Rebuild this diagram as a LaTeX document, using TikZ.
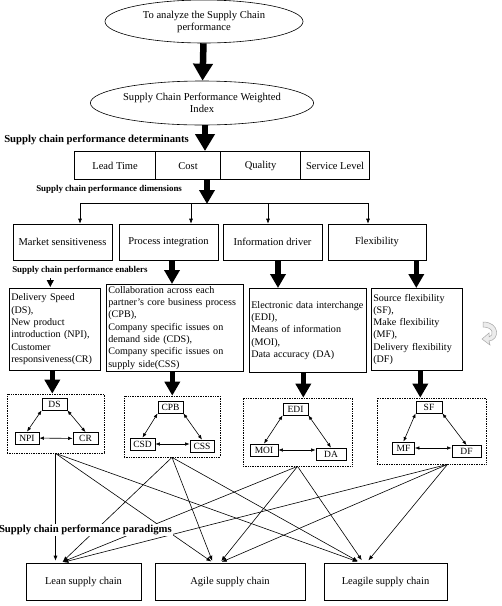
\documentclass[tikz,border=0pt]{standalone}
\usepackage{fontspec}
\setmainfont{Liberation Serif}
\usepackage{tikz}
\usetikzlibrary{matrix, positioning, arrows.meta}
\usetikzlibrary{shapes}

\begin{document}
\begin{tikzpicture}[x=1pt, y=-1pt, line width=0.6pt,
	goal/.style={draw, ellipse, align=center, inner sep=0pt, font=\fontsize{10.6}{12}\selectfont},
	box/.style={draw, align=center, font=\fontsize{10.5}{12}\selectfont},
	enabler/.style={draw, anchor=north west, align=left, inner sep=2pt, font=\fontsize{10.1}{12.3}\selectfont},
	grp/.style={draw, densely dotted, line width=0.7pt},
	var/.style={draw, line width=0.8pt, inner sep=1pt, minimum height=12pt, font=\fontsize{9.5}{10}\selectfont},
	bigarrow/.style={line width=6.5pt, -{Triangle[width=19pt,length=17pt]}},
	midarrow/.style={line width=5.5pt, -{Triangle[width=15pt,length=14pt]}},
	thin/.style={-{Latex[length=5pt,width=4pt]}},
	dbl/.style={{Latex[length=4.5pt,width=3.5pt]}-{Latex[length=4.5pt,width=3.5pt]}},
	lbl/.style={font=\bfseries\fontsize{10.7}{12}\selectfont, inner sep=1pt},
	smalllbl/.style={font=\bfseries\fontsize{8.9}{10}\selectfont, inner sep=1pt}]
				\useasboundingbox (0,0) rectangle (502,606);
				
				\node[goal, minimum width=198pt, minimum height=43pt] (aim) at (204,21.5) {To analyze the Supply Chain\\performance};
				\node[goal, minimum width=208pt, minimum height=44pt] (index) at (202,103) {Supply Chain Performance Weighted\\Index};
				
				\matrix (det) [matrix of nodes, anchor=north west, inner sep=0pt,
				nodes={draw, minimum height=28pt, anchor=center, font=\fontsize{10.5}{12}\selectfont},
				column sep=-\pgflinewidth] at (74,151) {
					|[minimum width=81pt]| Lead Time & |[minimum width=65pt]| Cost & |[minimum width=80pt]| Quality & |[minimum width=69pt]| Service Level \\
				};
				\node[lbl, anchor=west] (detlbl) at (3,140) {Supply chain performance determinants};
				
				\node[box, minimum width=99pt, minimum height=36pt] (ms) at (62.5,242) {Market sensitiveness};
				\node[box, minimum width=99pt, minimum height=36pt] (pi) at (168.5,242) {Process integration};
				\node[box, minimum width=99pt, minimum height=36pt] (id) at (272.5,242) {Information driver};
				\node[box, minimum width=98pt, minimum height=36pt] (fl) at (377,242) {Flexibility};
				\node[smalllbl, anchor=west] (dimlbl) at (35,189) {Supply chain performance dimensions};
				\node[smalllbl, anchor=west] (enlbl) at (11,270) {Supply chain performance enablers};
				
				\node[enabler, minimum width=91pt, minimum height=82pt, text width=87pt] (en1) at (9,288) {Delivery Speed\\(DS),\\New product\\introduction (NPI),\\Customer\\responsiveness(CR)};
				\node[enabler, minimum width=137pt, minimum height=86pt, text width=133pt] (en2) at (106,284) {Collaboration across each\\partner's core business process\\(CPB),\\Company specific issues on\\demand side (CDS),\\Company specific issues on\\supply side(CSS)};
				\node[enabler, minimum width=117pt, minimum height=84pt, text width=113pt] (en3) at (249,288) {Electronic data interchange\\(EDI),\\Means of information\\(MOI),\\Data accuracy (DA)};
				\node[enabler, minimum width=91pt, minimum height=82pt, text width=87pt] (en4) at (371,288) {Source flexibility\\(SF),\\Make flexibility\\(MF),\\Delivery flexibility\\(DF)};
				
				\node[grp, minimum width=97pt, minimum height=59pt] (grp1) at (55.5,423.5) {};
				\node[grp, minimum width=96pt, minimum height=61pt] (grp2) at (172,426.5) {};
				\node[grp, minimum width=109pt, minimum height=68pt] (grp3) at (297.5,432) {};
				\node[grp, minimum width=109pt, minimum height=66pt] (grp4) at (431.5,431) {};
				
				\node[var, minimum width=25pt] (ds) at (54.5,404) {DS};
				\node[var, minimum width=24pt] (npi) at (27,438) {NPI};
				\node[var, minimum width=25pt] (cr) at (85.5,438.5) {CR};
				\node[var, minimum width=25pt] (cpb) at (170.5,407) {CPB};
				\node[var, minimum width=25pt] (csd) at (142.5,444) {CSD};
				\node[var, minimum width=24pt] (css) at (202,446) {CSS};
				\node[var, minimum width=25pt] (edi) at (295.5,409) {EDI};
				\node[var, minimum width=28pt] (moi) at (264,450) {MOI};
				\node[var, minimum width=30pt] (da) at (331,454) {DA};
				\node[var, minimum width=26pt] (sf) at (429,407) {SF};
				\node[var, minimum width=22pt] (mf) at (403.5,448) {MF};
				\node[var, minimum width=29pt] (df) at (466.5,451.5) {DF};
				
				\node[box, minimum width=115pt, minimum height=37pt] (lean) at (83.5,581.5) {Lean supply chain};
				\node[box, minimum width=150pt, minimum height=37pt] (agile) at (230,581.5) {Agile supply chain};
				\node[box, minimum width=123pt, minimum height=37pt] (leagile) at (385.5,581.5) {Leagile supply chain};
				
				\draw[bigarrow] (aim) -- (index);
				\draw[bigarrow] ([xshift=3pt]index.south) -- ([xshift=3pt]index.south |- det.north);
				\coordinate (split) at (207,203);
				\draw[midarrow] (split |- det.south) -- ([yshift=-1pt]split);
				\draw (split -| 80,0) -- (split -| 368,0);
				\draw[thin] ([xshift=17.5pt]ms.north |- split) -- ([xshift=17.5pt]ms.north);
				\draw[thin] ([xshift=22.5pt]pi.north |- split) -- ([xshift=22.5pt]pi.north);
				\draw[thin] ([xshift=-4.5pt]id.north |- split) -- ([xshift=-4.5pt]id.north);
				\draw[thin] ([xshift=-9pt]fl.north |- split) -- ([xshift=-9pt]fl.north);
				
				\draw[line width=1pt, -{Triangle[width=7pt,length=7pt]}] ([xshift=-4.5pt, yshift=-3pt]en1.north |- enlbl.south) -- ([xshift=-4.5pt, yshift=1pt]en1.north);
				\draw[midarrow] ([xshift=3.5pt]pi.south) -- ([xshift=3.5pt]pi.south |- en2.north);
				\draw[midarrow] ([xshift=5.5pt]id.south) -- ([xshift=5.5pt]id.south |- en3.north);
				\draw[midarrow] ([xshift=-0.5pt]en4.north |- fl.south) -- ([xshift=-0.5pt]en4.north);
				
				\draw[midarrow] ([xshift=-2.5pt]en1.south) -- ([xshift=-2.5pt]en1.south |- grp1.north);
				\draw[midarrow] ([xshift=-2.5pt]en2.south) -- ([xshift=-2.5pt]en2.south |- grp2.north);
				\draw[midarrow] ([xshift=-4.5pt]en3.south) -- ([xshift=-4.5pt]en3.south |- grp3.north);
				\draw[midarrow] ([xshift=3.5pt]en4.south) -- ([xshift=3.5pt]en4.south |- grp4.north);
				
				\draw[dbl] (ds.south west) -- (npi.north);
				\draw[dbl] (ds.south east) -- (cr.north);
				\draw[dbl] (npi) -- (cr);
				\draw[dbl] (cpb.south west) -- (csd.north);
				\draw[dbl] (cpb.south east) -- (css.north);
				\draw[dbl] (csd.east) -- (css.west |- csd.east);
				\draw[dbl] (edi.south west) -- (moi.north);
				\draw[dbl] (edi.south east) -- (da.north);
				\draw[dbl] (moi.east) -- (da.west |- moi.east);
				\draw[dbl] (sf.south west) -- (mf.north);
				\draw[dbl] (sf.south east) -- (df.north);
				\draw[dbl] (mf.east) -- (df.west |- mf.east);
				
				\draw[thin, shorten >=2pt] (grp1.south) -- (lean.north -| grp1.south);
				\draw[thin, shorten >=2pt] (grp1.south) -- ([xshift=-17pt]agile.north);
				\draw[thin, shorten >=3pt] (grp1.south) -- ([xshift=-25pt]leagile.north);
				\draw[thin, shorten >=2pt] (grp2.south) -- ([xshift=-22pt]lean.north);
				\draw[thin, shorten >=2pt] (grp2.south) -- ([xshift=-17pt]agile.north);
				\draw[thin, shorten >=3pt] (grp2.south) -- ([xshift=-25pt]leagile.north);
				\draw[thin, shorten >=2pt] (grp3.south) -- ([xshift=-23pt]lean.north);
				\draw[thin, shorten >=2pt] (grp3.south) -- ([xshift=-10pt]agile.north);
				\draw[thin, shorten >=3pt] (grp3.south) -- ([xshift=-22pt]leagile.north);
				\draw[thin, shorten >=2pt] ([xshift=16pt]grp4.south) -- ([xshift=-22pt]lean.north);
				\draw[thin, shorten >=2pt] ([xshift=16pt]grp4.south) -- ([xshift=-10pt]agile.north);
				\draw[thin, shorten >=3pt] ([xshift=16pt]grp4.south) -- ([xshift=-19pt]leagile.north);
				
				\node[lbl, fill=white, anchor=east] (parlbl) at (173,530) {Supply chain performance paradigms};
				
				\draw[gray!70, fill=gray!15, line width=0.5pt] (483,322) .. controls (500,322) and (500,340) .. (489,341) -- (490,345) -- (482,339) -- (489,333) -- (489,337) .. controls (494,336) and (494,327) .. (483,327) -- cycle;
			\end{tikzpicture}
\end{document}
